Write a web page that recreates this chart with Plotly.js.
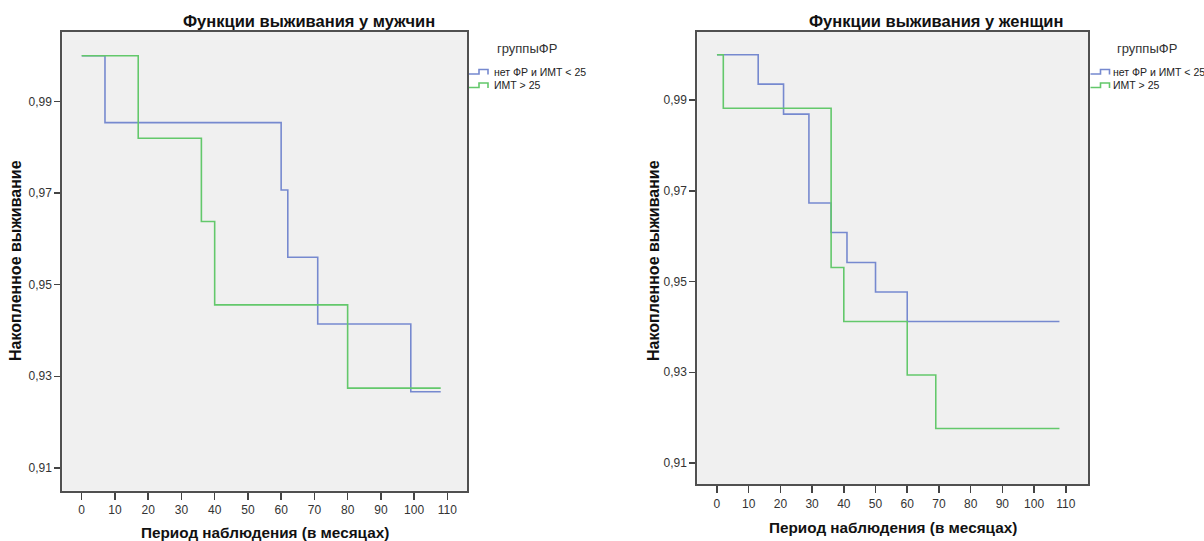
<!DOCTYPE html>
<html>
<head>
<meta charset="utf-8">
<script src="https://cdn.plot.ly/plotly-3.0.1.min.js"></script>
<style>html,body{margin:0;padding:0;background:#fff;}#chart{width:1204px;height:541px;}</style>
</head>
<body>
<div id="chart"></div>
<script>
// ---- data ----
const titleMen = "Функции выживания у мужчин";
const titleWomen = "Функции выживания у женщин";
const yTitle = "Накопленное выживание";
const xTitle = "Период наблюдения (в месяцах)";
const legendTitle = "группыФР";
const groupNames = ["нет ФР и ИМТ < 25", "ИМТ > 25"];

const xTicks = [0, 10, 20, 30, 40, 50, 60, 70, 80, 90, 100, 110];
const yTicks = [0.91, 0.93, 0.95, 0.97, 0.99];

// men
const menNoRiskTime = [0, 7, 60, 62, 71, 99, 108];
const menNoRiskSurv = [1.0, 0.9854, 0.9707, 0.9560, 0.9414, 0.9266, 0.9266];
const menBmiTime = [0, 17, 36, 40, 80, 108];
const menBmiSurv = [1.0, 0.9820, 0.9638, 0.9456, 0.9274, 0.9274];

// women
const womenNoRiskTime = [0, 13, 21, 29, 36, 41, 50, 60, 108];
const womenNoRiskSurv = [1.0, 0.9935, 0.9869, 0.9673, 0.9608, 0.9542, 0.9477, 0.9412, 0.9412];
const womenBmiTime = [0, 2, 36, 40, 60, 69, 108];
const womenBmiSurv = [1.0, 0.9882, 0.9531, 0.9412, 0.9294, 0.9176, 0.9176];

// ---- styling ----
const W = 1204, H = 541;
const px = x => x / W;
const py = y => 1 - y / H;
const BLUE = "#7689cf";
const GREEN = "#63c86b";
const REG = "'Liberation Sans', Arial, sans-serif";
const BOLD = "'Liberation Sans', Arial, sans-serif";

function step(x, y, color, xa, ya, name) {
  return {x: x, y: y, type: "scatter", mode: "lines", name: name,
    line: {shape: "hv", color: color, width: 1.6}, xaxis: xa, yaxis: ya,
    showlegend: false, hoverinfo: "x+y"};
}

const traces = [
  step(menNoRiskTime, menNoRiskSurv, BLUE, "x", "y", groupNames[0]),
  step(menBmiTime, menBmiSurv, GREEN, "x", "y", groupNames[1]),
  step(womenNoRiskTime, womenNoRiskSurv, BLUE, "x2", "y2", groupNames[0]),
  step(womenBmiTime, womenBmiSurv, GREEN, "x2", "y2", groupNames[1])
];

function xAxis(domain, range, anchor) {
  return {domain: domain, range: range, anchor: anchor, tickvals: xTicks,
    ticks: "outside", ticklen: 7, tickwidth: 1.5, tickcolor: "#444",
    showline: true, linecolor: "#505050", linewidth: 2, mirror: true,
    showgrid: false, zeroline: false, fixedrange: true,
    tickfont: {family: REG, size: 12, color: "#333"}};
}
function yAxis(domain, range, anchor) {
  return {domain: domain, range: range, anchor: anchor, tickvals: yTicks,
    tickformat: ".2f", ticks: "outside", ticklen: 6, tickwidth: 1.5, tickcolor: "#444",
    showline: true, linecolor: "#505050", linewidth: 2, mirror: true,
    showgrid: false, zeroline: false, fixedrange: true,
    tickfont: {family: REG, size: 12, color: "#333"}};
}

function ann(text, x, y, opts) {
  return Object.assign({text: text, x: px(x), y: py(y), xref: "paper", yref: "paper",
    showarrow: false, xanchor: "center", yanchor: "middle"}, opts || {});
}
const esc = s => s.replace(/</g, "&lt;").replace(/>/g, "&gt;");

const annotations = [];
const shapes = [];

const plots = [
  {title: titleMen, titleX: 309, yTitleX: 15, xTitleX: 265, xTitleY: 532.7, legX: 469, legTextX: 491.5, legTitleX: 527},
  {title: titleWomen, titleX: 936, yTitleX: 653, xTitleX: 893, xTitleY: 527.3, legX: 1090.5, legTextX: 1111, legTitleX: 1147}
];
plots.forEach(p => {
  annotations.push(ann("<b>" + p.title + "</b>", p.titleX, 21.5,
    {font: {family: BOLD, size: 16.5, color: "#111"}}));
  annotations.push(ann("<b>" + yTitle + "</b>", p.yTitleX, 261,
    {textangle: -90, font: {family: BOLD, size: 16, color: "#111"}}));
  annotations.push(ann("<b>" + xTitle + "</b>", p.xTitleX, p.xTitleY,
    {font: {family: BOLD, size: 15.3, color: "#111"}}));
  annotations.push(ann(legendTitle, p.legTitleX, 48.3,
    {font: {family: REG, size: 13, color: "#333"}}));
  [[groupNames[0], BLUE, 71.5], [groupNames[1], GREEN, 85]].forEach(item => {
    annotations.push(ann(esc(item[0]), p.legTextX, item[2],
      {xanchor: "left", font: {family: REG, size: 10.5, color: "#222"}}));
    const x0 = p.legX, yb = item[2] + 2.5, yt = item[2] - 2;
    const path = "M " + px(x0) + "," + py(yb) + " L " + px(x0 + 10) + "," + py(yb) +
      " L " + px(x0 + 10) + "," + py(yt) + " L " + px(x0 + 19) + "," + py(yt) +
      " L " + px(x0 + 19) + "," + py(yb + 0.5);
    shapes.push({type: "path", xref: "paper", yref: "paper", path: path,
      line: {color: item[1], width: 1.6}});
  });
});

const layout = {
  width: W, height: H,
  margin: {l: 0, r: 0, t: 0, b: 0},
  paper_bgcolor: "#ffffff",
  plot_bgcolor: "#f0f0f0",
  separators: ", ",
  showlegend: false,
  xaxis: xAxis([px(62.3), px(467.3)], [-5.84, 116], "y"),
  yaxis: yAxis([py(490.7), py(32)], [0.905, 1.0052], "x"),
  xaxis2: xAxis([px(697.3), px(1088.3)], [-6.2, 117.1], "y2"),
  yaxis2: yAxis([py(484.3), py(32)], [0.9053, 1.0050], "x2"),
  annotations: annotations,
  shapes: shapes
};

Plotly.newPlot("chart", traces, layout, {displayModeBar: false, staticPlot: true});
</script>
</body>
</html>
